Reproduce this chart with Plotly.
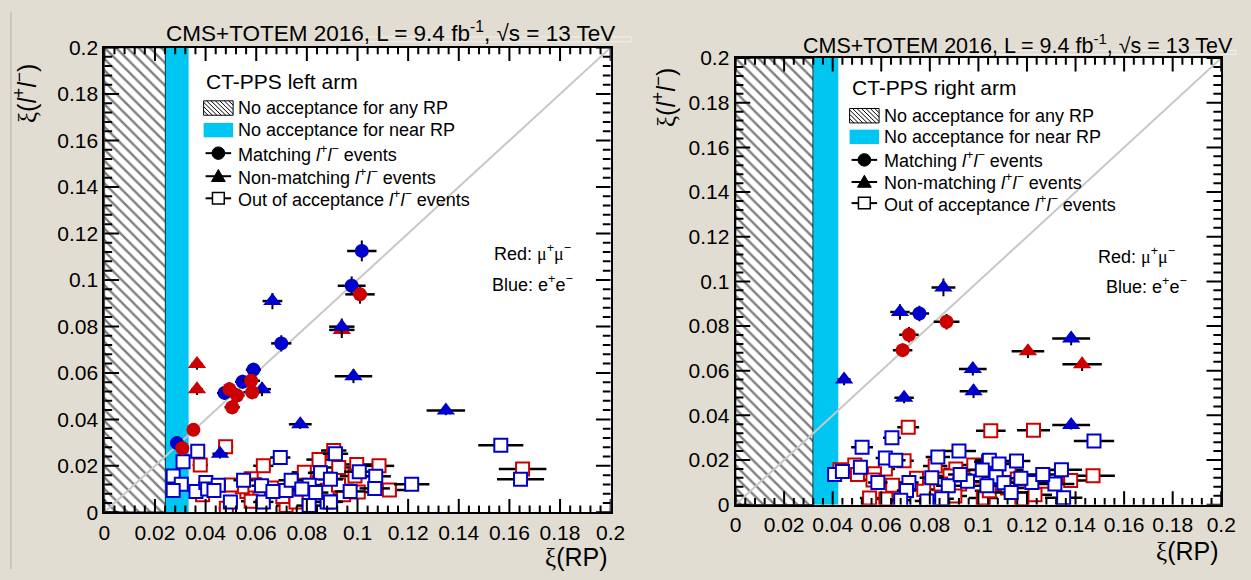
import plotly.graph_objects as go

W, H = 1251, 580
SANS = "Liberation Sans"
SERIF = "Liberation Serif"
RED = "#cc0000"
BLUE = "#0000cc"
CYAN = "#00c6f2"
BG = "#e2ddd3"

# acceptance limits in xi(RP)
left_no_any, left_no_near = 0.0242, 0.0333
right_no_any, right_no_near = 0.0320, 0.0423
diag = [0.0, 0.2]

# axis divisions: major every 0.02, five minor steps in between
major_step, minor_per_major, axis_max = 0.02, 5, 0.2

# ---- left arm: (xi_RP, xi_ll, err_RP, err_ll) ----
left_match_mumu = [(0.1010, 0.0938, 0.0058, 0.0040), (0.0580, 0.0566, 0.0035, 0.0030),
                   (0.0494, 0.0530, 0.0030, 0.0030), (0.0524, 0.0503, 0.0030, 0.0030),
                   (0.0584, 0.0517, 0.0035, 0.0030), (0.0505, 0.0452, 0.0030, 0.0030),
                   (0.0352, 0.0355, 0.0025, 0.0025), (0.0308, 0.0276, 0.0020, 0.0020)]
left_match_ee = [(0.1017, 0.1125, 0.0058, 0.0045), (0.0977, 0.0975, 0.0055, 0.0040),
                 (0.0699, 0.0727, 0.0040, 0.0035), (0.0589, 0.0614, 0.0030, 0.0030),
                 (0.0546, 0.0562, 0.0030, 0.0030), (0.0475, 0.0514, 0.0030, 0.0030),
                 (0.0287, 0.0298, 0.0020, 0.0020)]
left_nonmatch_mumu = [(0.0366, 0.0638, 0.0023, 0.0025), (0.0366, 0.0530, 0.0023, 0.0025),
                      (0.0938, 0.0785, 0.0050, 0.0035)]
left_nonmatch_ee = [(0.0664, 0.0909, 0.0039, 0.0035), (0.0938, 0.0799, 0.0050, 0.0035),
                    (0.0623, 0.0530, 0.0035, 0.0030), (0.0984, 0.0586, 0.0074, 0.0030),
                    (0.0774, 0.0379, 0.0045, 0.0020), (0.1349, 0.0438, 0.0076, 0.0020),
                    (0.0457, 0.0252, 0.0030, 0.0020)]
left_out_mumu = [(0.0479, 0.0282, 0.003, 0.002), (0.0379, 0.0204, 0.003, 0.002), (0.0388, 0.0076, 0.003, 0.002),
                 (0.0482, 0.0018, 0.003, 0.002), (0.0628, 0.0200, 0.004, 0.002), (0.0580, 0.0145, 0.004, 0.002),
                 (0.0563, 0.0090, 0.004, 0.002), (0.0580, 0.0048, 0.004, 0.002), (0.0545, 0.0110, 0.004, 0.002),
                 (0.0718, 0.0029, 0.004, 0.002), (0.0790, 0.0172, 0.005, 0.002), (0.0848, 0.0227, 0.005, 0.002),
                 (0.0809, 0.0076, 0.005, 0.002), (0.0906, 0.0266, 0.005, 0.002), (0.0926, 0.0193, 0.005, 0.002),
                 (0.0945, 0.0076, 0.005, 0.002), (0.0997, 0.0206, 0.006, 0.002), (0.1003, 0.0087, 0.006, 0.002),
                 (0.0990, 0.0156, 0.006, 0.002), (0.1085, 0.0200, 0.006, 0.002), (0.1126, 0.0096, 0.007, 0.002),
                 (0.1652, 0.0187, 0.0094, 0.002), (0.0660, 0.0105, 0.004, 0.002), (0.0740, 0.0110, 0.005, 0.002),
                 (0.0850, 0.0130, 0.005, 0.002), (0.0880, 0.0095, 0.005, 0.002), (0.0705, 0.0068, 0.004, 0.002),
                 (0.0595, 0.0118, 0.004, 0.002), (0.0502, 0.0118, 0.003, 0.002), (0.0925, 0.0118, 0.006, 0.002),
                 (0.0757, 0.0045, 0.005, 0.002), (0.0405, 0.0115, 0.003, 0.002)]
left_out_ee = [(0.0369, 0.0263, 0.002, 0.002), (0.0311, 0.0218, 0.002, 0.002), (0.0272, 0.0156, 0.002, 0.002),
               (0.0304, 0.0121, 0.002, 0.002), (0.0272, 0.0094, 0.002, 0.002), (0.0362, 0.0090, 0.003, 0.002),
               (0.0401, 0.0128, 0.003, 0.002), (0.0408, 0.0100, 0.003, 0.002), (0.0450, 0.0117, 0.003, 0.002),
               (0.0433, 0.0094, 0.003, 0.002), (0.0498, 0.0045, 0.003, 0.002), (0.0695, 0.0236, 0.004, 0.002),
               (0.0550, 0.0138, 0.004, 0.002), (0.0621, 0.0114, 0.004, 0.002), (0.0628, 0.0045, 0.004, 0.002),
               (0.0666, 0.0090, 0.004, 0.002), (0.0718, 0.0094, 0.004, 0.002), (0.0738, 0.0138, 0.005, 0.002),
               (0.0854, 0.0170, 0.005, 0.002), (0.0809, 0.0117, 0.005, 0.002), (0.0809, 0.0029, 0.005, 0.002),
               (0.0880, 0.0045, 0.005, 0.002), (0.0913, 0.0252, 0.005, 0.002), (0.0893, 0.0142, 0.005, 0.002),
               (0.0971, 0.0090, 0.006, 0.002), (0.1007, 0.0175, 0.006, 0.002), (0.1072, 0.0155, 0.006, 0.002),
               (0.1068, 0.0103, 0.006, 0.002), (0.1214, 0.0121, 0.007, 0.002), (0.1566, 0.0289, 0.0089, 0.002),
               (0.1644, 0.0142, 0.0093, 0.002), (0.0893, 0.0045, 0.005, 0.002), (0.0780, 0.0100, 0.005, 0.002),
               (0.0835, 0.0085, 0.005, 0.002)]

# ---- right arm ----
right_match_mumu = [(0.0869, 0.0819, 0.0053, 0.0035), (0.0714, 0.0761, 0.0040, 0.0035),
                    (0.0688, 0.0692, 0.0040, 0.0030)]
right_match_ee = [(0.0757, 0.0856, 0.0040, 0.0035)]
right_nonmatch_mumu = [(0.1204, 0.0687, 0.0067, 0.0030), (0.1427, 0.0629, 0.0081, 0.0030)]
right_nonmatch_ee = [(0.0856, 0.0973, 0.0049, 0.0040), (0.0677, 0.0863, 0.0040, 0.0035),
                     (0.0447, 0.0560, 0.0027, 0.0025), (0.0694, 0.0479, 0.0040, 0.0025),
                     (0.0977, 0.0608, 0.0057, 0.0030), (0.0980, 0.0508, 0.0057, 0.0030),
                     (0.1382, 0.0744, 0.0078, 0.0030), (0.1382, 0.0357, 0.0078, 0.0020)]
right_out_mumu = [(0.0711, 0.0347, 0.0045, 0.002), (0.1051, 0.0331, 0.0061, 0.002), (0.1227, 0.0333, 0.0068, 0.002),
                  (0.1472, 0.0130, 0.0090, 0.002), (0.0694, 0.0197, 0.004, 0.002), (0.0491, 0.0178, 0.003, 0.002),
                  (0.0617, 0.0160, 0.004, 0.002), (0.0822, 0.0173, 0.005, 0.002), (0.0907, 0.0160, 0.005, 0.002),
                  (0.0981, 0.0178, 0.006, 0.002), (0.0430, 0.0156, 0.003, 0.002), (0.0502, 0.0135, 0.003, 0.002),
                  (0.0572, 0.0138, 0.004, 0.002), (0.0566, 0.0110, 0.004, 0.002), (0.0647, 0.0087, 0.004, 0.002),
                  (0.0775, 0.0068, 0.005, 0.002), (0.0883, 0.0128, 0.005, 0.002), (0.0923, 0.0092, 0.005, 0.002),
                  (0.0903, 0.0039, 0.005, 0.002), (0.0619, 0.0025, 0.004, 0.002), (0.0552, 0.0030, 0.004, 0.002),
                  (0.1020, 0.0030, 0.006, 0.002), (0.0990, 0.0128, 0.006, 0.002), (0.1126, 0.0156, 0.006, 0.002),
                  (0.1179, 0.0027, 0.007, 0.002), (0.1233, 0.0044, 0.007, 0.002), (0.1380, 0.0108, 0.008, 0.002),
                  (0.1085, 0.0095, 0.006, 0.002), (0.1160, 0.0115, 0.007, 0.002), (0.1270, 0.0105, 0.007, 0.002),
                  (0.1320, 0.0125, 0.008, 0.002), (0.0745, 0.0118, 0.005, 0.002), (0.1045, 0.0062, 0.006, 0.002),
                  (0.1120, 0.0075, 0.007, 0.002), (0.0845, 0.0092, 0.005, 0.002)]
right_out_ee = [(0.0644, 0.0300, 0.0037, 0.002), (0.0521, 0.0257, 0.0045, 0.002), (0.0920, 0.0240, 0.0070, 0.002),
                (0.0833, 0.0214, 0.005, 0.002), (0.0617, 0.0209, 0.004, 0.002), (0.0660, 0.0199, 0.004, 0.002),
                (0.0514, 0.0168, 0.003, 0.002), (0.1042, 0.0192, 0.006, 0.002), (0.0408, 0.0135, 0.003, 0.002),
                (0.0440, 0.0149, 0.003, 0.002), (0.0586, 0.0099, 0.004, 0.002), (0.0714, 0.0099, 0.004, 0.002),
                (0.0704, 0.0063, 0.004, 0.002), (0.0808, 0.0120, 0.005, 0.002), (0.0876, 0.0085, 0.005, 0.002),
                (0.0849, 0.0027, 0.005, 0.002), (0.0788, 0.0016, 0.005, 0.002), (0.0680, 0.0020, 0.004, 0.002),
                (0.1476, 0.0285, 0.0083, 0.002), (0.1157, 0.0195, 0.0057, 0.002), (0.1342, 0.0156, 0.0085, 0.002),
                (0.1351, 0.0031, 0.0077, 0.002), (0.1045, 0.0199, 0.006, 0.002), (0.1085, 0.0182, 0.006, 0.002),
                (0.1315, 0.0092, 0.008, 0.002), (0.1220, 0.0099, 0.007, 0.002), (0.1016, 0.0155, 0.006, 0.002),
                (0.1073, 0.0125, 0.006, 0.002), (0.1035, 0.0085, 0.006, 0.002), (0.1105, 0.0098, 0.006, 0.002),
                (0.1175, 0.0118, 0.007, 0.002), (0.1265, 0.0135, 0.007, 0.002), (0.0955, 0.0105, 0.005, 0.002),
                (0.0925, 0.0135, 0.005, 0.002), (0.1135, 0.0055, 0.007, 0.002)]

# panel placement in pixels: (left, top, right, bottom)
panels = {"left": (100, 37, 615, 521), "right": (742, 48, 1236, 513)}


def px(x):
    return x / W


def py(y):
    return 1 - y / H


fig = go.Figure()


def band(xa, ya, x0, x1, hatched):
    kw = dict(x=[x0, x1, x1, x0, x0], y=[0, 0, 0.2, 0.2, 0], xaxis=xa, yaxis=ya,
              mode="lines", fill="toself", showlegend=False, hoverinfo="skip")
    if hatched:
        kw.update(line=dict(color="black", width=1.5), fillcolor="white",
                  fillpattern=dict(shape="\\", fgcolor="black", bgcolor="white",
                                   size=8, solidity=0.3))
    else:
        kw.update(line=dict(width=0, color=CYAN), fillcolor=CYAN)
    fig.add_trace(go.Scatter(**kw))


def points(xa, ya, pts, color, symbol, size, fill):
    fig.add_trace(go.Scatter(
        x=[p[0] for p in pts], y=[p[1] for p in pts], xaxis=xa, yaxis=ya,
        mode="markers", showlegend=False,
        error_x=dict(type="data", array=[p[2] for p in pts], color="black",
                     thickness=2.5, width=0),
        error_y=dict(type="data", array=[p[3] for p in pts], color="black",
                     thickness=2, width=0),
        marker=dict(symbol=symbol, size=size, color=fill,
                    line=dict(color=color, width=2 if fill == "white" else 0))))


def tick_marks(xa, ya, frame):
    """Inside ticks on all four sides, drawn in the panel's own data units."""
    pl, pt, pr, pb = frame
    wpx, hpx = pr - pl, pb - pt
    n_steps = round(axis_max / major_step * minor_per_major)
    xs, ys = [], []
    for k in range(n_steps + 1):
        v = k * axis_max / n_steps
        major = k % minor_per_major == 0
        dy = (14 if major else 7) / hpx * axis_max
        dx = (15 if major else 8) / wpx * axis_max
        xs += [v, v, None, v, v, None, 0, dx, None, axis_max, axis_max - dx, None]
        ys += [0, dy, None, axis_max, axis_max - dy, None, v, v, None, v, v, None]
    fig.add_trace(go.Scatter(x=xs, y=ys, xaxis=xa, yaxis=ya, mode="lines",
                             line=dict(color="black", width=2), showlegend=False,
                             hoverinfo="skip", connectgaps=False))


for xa, ya, no_any, no_near, frame, data in [
    ("x", "y", left_no_any, left_no_near, panels["left"],
     (left_out_mumu, left_out_ee, left_nonmatch_mumu, left_nonmatch_ee, left_match_ee, left_match_mumu)),
    ("x2", "y2", right_no_any, right_no_near, panels["right"],
     (right_out_mumu, right_out_ee, right_nonmatch_mumu, right_nonmatch_ee, right_match_ee, right_match_mumu)),
]:
    band(xa, ya, 0, no_any, True)
    band(xa, ya, no_any, no_near, False)
    fig.add_trace(go.Scatter(x=diag, y=diag, xaxis=xa, yaxis=ya, mode="lines",
                             line=dict(color="#c8c8c8", width=2), showlegend=False, hoverinfo="skip"))
    out_mm, out_ee, nm_mm, nm_ee, m_ee, m_mm = data
    points(xa, ya, out_mm, RED, "square", 13, "white")
    points(xa, ya, out_ee, BLUE, "square", 13, "white")
    points(xa, ya, nm_mm, RED, "triangle-up", 16, RED)
    points(xa, ya, nm_ee, BLUE, "triangle-up", 16, BLUE)
    points(xa, ya, m_ee, BLUE, "circle", 14, BLUE)
    points(xa, ya, m_mm, RED, "circle", 14, RED)
    tick_marks(xa, ya, frame)


def axis(dom, anchor):
    return dict(domain=dom, anchor=anchor, range=[0, axis_max], tickmode="linear",
                dtick=major_step, tick0=0, ticks="", showline=True, linecolor="black",
                linewidth=2, mirror=True, showgrid=False, zeroline=False,
                tickfont=dict(family=SANS, size=21, color="black"))


l, t, r, b = panels["left"]
l2, t2, r2, b2 = panels["right"]
fig.update_layout(
    width=W, height=H, margin=dict(l=0, r=0, t=0, b=0),
    paper_bgcolor=BG, plot_bgcolor="white", showlegend=False,
    xaxis=axis([px(l), px(r)], "y"),
    yaxis=axis([py(b), py(t)], "x"),
    xaxis2=axis([px(l2), px(r2)], "y2"),
    yaxis2=axis([py(b2), py(t2)], "x2"),
)

shapes = []
annotations = []


def text(x, y, s, size, anchor="left", family=SANS, angle=0, yanchor="middle"):
    annotations.append(dict(x=px(x), y=py(y), xref="paper", yref="paper", text=s,
                            showarrow=False, xanchor=anchor, yanchor=yanchor, textangle=angle,
                            font=dict(family=family, size=size, color="black")))


XI = f'<span style="font-family:{SERIF}">ξ</span>'
LL = "<i>l</i><sup>+</sup><i>l</i><sup>−</sup>"
TITLE = "CMS+TOTEM 2016, L = 9.4 fb<sup>-1</sup>, √s = 13 TeV"


def legend(x0, yhead, rows, arm):
    text(x0, yhead, f"CT-PPS {arm} arm", 21)
    bx0, bx1 = x0, x0 + 30
    cx = (bx0 + bx1) / 2
    labels = ["No acceptance for any RP", "No acceptance for near RP",
              f"Matching {LL} events", f"Non-matching {LL} events",
              f"Out of acceptance {LL} events"]
    for i, (yy, lab) in enumerate(zip(rows, labels)):
        text(bx1 + 3, yy, lab, 18)
        if i == 0:
            y0, y1 = yy - 7.5, yy + 7.5
            h = y1 - y0
            path = ""
            a = bx0 - h
            while a < bx1:
                t0 = max(0.0, (bx0 - a) / h)
                t1 = min(1.0, (bx1 - a) / h)
                if t0 < t1:
                    path += (f"M{px(a + t0 * h)},{py(y0 + t0 * h)} "
                             f"L{px(a + t1 * h)},{py(y0 + t1 * h)} ")
                a += 4.5
            shapes.append(dict(type="rect", xref="paper", yref="paper", x0=px(bx0), x1=px(bx1),
                               y0=py(y1), y1=py(y0), fillcolor="white",
                               line=dict(color="black", width=1)))
            shapes.append(dict(type="path", xref="paper", yref="paper", path=path,
                               line=dict(color="black", width=1)))
        elif i == 1:
            shapes.append(dict(type="rect", xref="paper", yref="paper", x0=px(bx0), x1=px(bx1),
                               y0=py(yy + 7.5), y1=py(yy - 7.5), fillcolor=CYAN,
                               line=dict(width=0)))
        else:
            shapes.append(dict(type="line", xref="paper", yref="paper", x0=px(bx0 + 2),
                               x1=px(bx1 - 2), y0=py(yy), y1=py(yy),
                               line=dict(color="black", width=2)))
            if i == 2:
                shapes.append(dict(type="circle", xref="paper", yref="paper",
                                   x0=px(cx - 6.5), x1=px(cx + 6.5), y0=py(yy + 6.5), y1=py(yy - 6.5),
                                   fillcolor="black", line=dict(color="black", width=1)))
            elif i == 3:
                shapes.append(dict(type="path", xref="paper", yref="paper",
                                   path=f"M{px(cx - 7)},{py(yy + 5.5)} L{px(cx + 7)},{py(yy + 5.5)} "
                                        f"L{px(cx)},{py(yy - 7)} Z",
                                   fillcolor="black", line=dict(color="black", width=1)))
            else:
                shapes.append(dict(type="rect", xref="paper", yref="paper",
                                   x0=px(cx - 6), x1=px(cx + 6), y0=py(yy + 6), y1=py(yy - 6),
                                   fillcolor="white", line=dict(color="black", width=1.5)))


legend(201, 72, [100, 123, 147, 171, 194], "left")
legend(858, 79, [108, 130, 154, 177, 199], "right")

MU = f'<span style="font-family:{SERIF}">μ</span>'
text(494, 250, f"Red: {MU}<sup>+</sup>{MU}<sup>−</sup>", 18)
text(492, 283, "Blue: e<sup>+</sup>e<sup>−</sup>", 18)
text(1109, 254, f"Red: {MU}<sup>+</sup>{MU}<sup>−</sup>", 18)
text(1117, 285, "Blue: e<sup>+</sup>e<sup>−</sup>", 18)

text(621, 21, TITLE, 22.5, anchor="right")
text(1250, 33, TITLE, 21.5, anchor="right")

text(614, 567, f"{XI}(RP)", 25, anchor="right")
text(1236, 561, f"{XI}(RP)", 25, anchor="right")
text(20, 52, f"{XI}({LL})", 25, angle=-90, anchor="center", yanchor="top")
text(670, 56, f"{XI}({LL})", 25, angle=-90, anchor="center", yanchor="top")

# pale frame lines of the header boxes and the page edge
shapes.append(dict(type="rect", xref="paper", yref="paper", x0=px(345), x1=px(636),
                   y0=py(31), y1=py(26), line=dict(color="#f3f1ec", width=1)))
shapes.append(dict(type="rect", xref="paper", yref="paper", x0=px(975), x1=px(1251),
                   y0=py(44), y1=py(40), line=dict(color="#f3f1ec", width=1)))
shapes.append(dict(type="line", xref="paper", yref="paper", x0=px(5), x1=px(5),
                   y0=0, y1=1, line=dict(color="#c4bfb5", width=1.5)))

fig.update_layout(shapes=shapes, annotations=annotations)
fig.write_html("out.html")
